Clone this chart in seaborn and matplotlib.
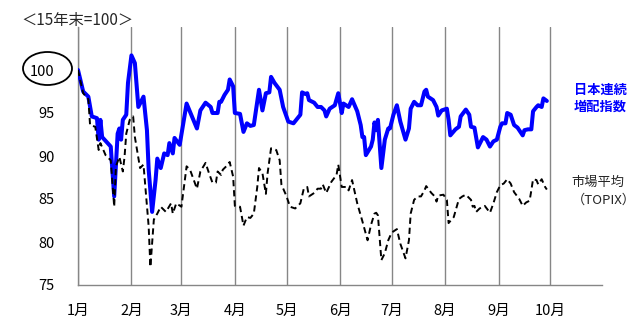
import matplotlib
matplotlib.use("Agg")
import matplotlib.pyplot as plt
import matplotlib.dates as mdates
from matplotlib.ticker import FuncFormatter
from matplotlib.patches import Ellipse
import pandas as pd
import seaborn as sns

# ---------------- data ----------------
base_date = "2016-01-01"
title_text = "＜15年末=100＞"
month_labels = ["1月", "2月", "3月", "4月", "5月", "6月", "7月", "8月", "9月", "10月"]
y_ticks = [75, 80, 85, 90, 95, 100]

# 日本連続増配指数 (days after base_date, index value)
blue_days = [0, 3, 6, 8, 11, 12, 13, 14, 19, 21, 23, 24, 25, 26, 28, 29, 31, 33, 35, 38,
             40, 41, 43, 45, 46, 48, 50, 52, 53, 55, 56, 59, 63, 69, 71, 74, 77, 78, 81, 82,
             83, 85, 87, 88, 90, 91, 94, 96, 98, 100, 102, 105, 107, 109, 111, 112, 114, 117, 119, 122,
             125, 129, 130, 132, 133, 134, 137, 139, 141, 143, 144, 146, 149, 151, 153, 154, 157, 159, 162, 164,
             165, 166, 167, 170, 171, 172, 173, 174, 176, 178, 180, 181, 183, 185, 187, 190, 192, 193, 195, 197,
             199, 201, 202, 203, 206, 208, 209, 211, 214, 215, 216, 219, 221, 222, 225, 227, 228, 230, 232, 233,
             235, 237, 239, 241, 243, 245, 246, 248, 249, 251, 253, 255, 256, 258, 259, 261, 263, 264, 266, 267,
             269, 270, 272]
blue_vals = [100.0, 97.5, 96.9, 94.6, 94.4, 91.9, 94.2, 92.2, 91.1, 85.3, 92.6, 93.2, 91.9, 94.2, 94.8, 98.5, 101.7, 100.8, 95.7, 96.9,
             93.0, 88.4, 83.5, 87.2, 89.7, 88.6, 90.3, 90.1, 91.5, 90.3, 92.1, 91.3, 96.1, 93.2, 95.3, 96.2, 95.7, 95.0, 95.0, 96.3,
             96.3, 97.1, 97.7, 98.9, 98.1, 95.0, 94.9, 92.8, 93.8, 93.5, 93.6, 97.7, 95.3, 97.3, 97.4, 99.2, 98.5, 97.7, 95.7, 94.0,
             93.8, 94.8, 97.4, 97.2, 97.3, 96.5, 96.2, 95.7, 95.7, 95.3, 94.6, 95.5, 95.9, 97.3, 95.0, 96.1, 95.7, 96.6, 95.2, 93.6,
             92.2, 92.2, 90.1, 91.1, 91.9, 93.9, 93.0, 94.2, 88.6, 91.9, 93.2, 93.2, 94.8, 95.9, 94.0, 91.9, 93.2, 95.5, 96.3, 95.9,
             95.9, 97.5, 97.7, 96.9, 96.5, 95.7, 94.7, 95.3, 95.5, 94.2, 92.4, 93.1, 93.4, 94.6, 95.4, 94.8, 93.4, 93.3, 91.0, 91.4,
             92.2, 91.9, 91.1, 91.7, 91.9, 93.4, 93.8, 93.8, 95.0, 94.8, 93.6, 93.3, 93.0, 92.4, 93.0, 93.1, 93.1, 95.2, 95.7, 95.9,
             95.7, 96.7, 96.4]

# 市場平均 (TOPIX)
black_days = [0, 3, 6, 7, 10, 12, 13, 16, 19, 21, 22, 24, 26, 27, 28, 30, 32, 33, 36, 38,
              41, 42, 44, 46, 48, 51, 54, 55, 57, 60, 63, 65, 69, 71, 74, 76, 78, 80, 81, 83,
              84, 86, 88, 90, 91, 94, 96, 98, 100, 102, 104, 105, 107, 109, 110, 112, 115, 117, 118, 121,
              123, 126, 129, 131, 133, 134, 137, 139, 141, 142, 144, 147, 150, 151, 153, 156, 157, 159, 162, 165,
              168, 170, 172, 173, 174, 176, 178, 180, 182, 185, 187, 190, 192, 193, 195, 197, 199, 201, 202, 205,
              207, 208, 209, 212, 214, 215, 218, 221, 223, 225, 228, 229, 230, 231, 233, 235, 236, 239, 241, 243,
              245, 247, 249, 251, 253, 256, 258, 260, 262, 263, 264, 266, 267, 269, 271, 272]
black_vals = [100.0, 97.3, 96.6, 93.6, 93.4, 90.7, 91.5, 90.1, 89.5, 84.1, 88.8, 89.9, 88.2, 89.9, 92.6, 94.2, 94.6, 92.2, 88.6, 89.0,
              81.8, 77.1, 82.6, 83.3, 84.1, 83.5, 84.5, 83.3, 84.5, 84.1, 88.8, 88.4, 86.2, 88.2, 89.2, 88.0, 86.9, 86.9, 88.2, 87.8,
              88.4, 88.8, 89.3, 87.6, 84.2, 84.1, 81.9, 82.9, 82.8, 83.3, 86.4, 88.6, 88.0, 85.6, 88.0, 90.9, 90.7, 89.5, 86.7, 85.3,
              84.1, 83.9, 84.5, 86.2, 86.4, 85.3, 85.7, 86.2, 86.2, 86.7, 85.7, 87.0, 87.8, 89.0, 86.4, 86.4, 86.0, 87.2, 84.5, 82.4,
              80.2, 82.0, 83.3, 83.4, 83.1, 77.9, 78.7, 80.2, 81.1, 81.5, 79.8, 78.1, 80.2, 83.3, 84.9, 85.3, 85.3, 86.0, 86.5, 85.7,
              85.3, 84.7, 85.4, 85.5, 84.9, 82.2, 82.9, 85.0, 85.3, 85.5, 84.9, 84.1, 84.2, 83.5, 83.9, 84.1, 84.2, 83.4, 84.5, 85.8,
              86.6, 86.8, 87.3, 86.8, 85.8, 85.0, 84.2, 84.6, 84.8, 86.0, 87.3, 87.2, 86.7, 87.3, 86.4, 86.1]

blue_label = ["日本連続", "増配指数"]
black_label = ["市場平均", "（TOPIX）"]

# ---------------- build frames ----------------
base = pd.Timestamp(base_date)
df_blue = pd.DataFrame({"date": base + pd.to_timedelta(blue_days, unit="D"), "value": blue_vals})
df_black = pd.DataFrame({"date": base + pd.to_timedelta(black_days, unit="D"), "value": black_vals})

sns.set_style("white")
plt.rcParams["font.family"] = ["Noto Sans CJK JP", "DejaVu Sans"]

W, H = 642, 326
fig = plt.figure(figsize=(W / 100, H / 100), dpi=100)
ax = fig.add_axes([78 / W, 1 - 285 / H, (602 - 78) / W, (285 - 27) / H])

grey = "#868686"
sns.lineplot(data=df_blue, x="date", y="value", color="#0000FF", lw=2.9, ax=ax, zorder=3)
sns.lineplot(data=df_black, x="date", y="value", color="black", lw=1.4,
             linestyle=(0, (3.2, 2.0)), ax=ax, zorder=4)

ax.set_xlim(base, base + pd.Timedelta(days=304))
ax.set_ylim(75, 105)
ax.set_yticks(y_ticks)
ax.xaxis.set_major_locator(mdates.MonthLocator(bymonth=range(1, len(month_labels) + 1)))
ax.xaxis.set_major_formatter(FuncFormatter(lambda v, p: month_labels[mdates.num2date(v).month - 1]))
ax.set_xlabel("")
ax.set_ylabel("")

ax.grid(axis="x", color=grey, lw=1.0)
ax.grid(axis="y", visible=False)
ax.set_axisbelow(True)
for s in ["top", "right"]:
    ax.spines[s].set_visible(False)
for s in ["left", "bottom"]:
    ax.spines[s].set_color(grey)
    ax.spines[s].set_linewidth(1.0)
ax.tick_params(axis="both", direction="out", length=4.5, width=1.0, color=grey,
               labelsize=10.5, labelcolor="black")
ax.tick_params(axis="y", pad=12.5)
ax.tick_params(axis="x", pad=9.0)

# ellipse around the 100 label
fig.add_artist(Ellipse((47.5 / W, 1 - 68.5 / H), 49 / W, 33 / H, transform=fig.transFigure,
                       fill=False, ec="black", lw=1.3))

fig.text(21 / W, 1 - 21 / H, title_text, ha="left", va="center", fontsize=11)
fig.text(600 / W, 1 - 90 / H, blue_label[0], ha="center", va="center", fontsize=9.5,
         color="#0000FF", fontweight="bold")
fig.text(600 / W, 1 - 107 / H, blue_label[1], ha="center", va="center", fontsize=9.5,
         color="#0000FF", fontweight="bold")
fig.text(598 / W, 1 - 182 / H, black_label[0], ha="center", va="center", fontsize=9.5)
fig.text(604 / W, 1 - 200 / H, black_label[1], ha="center", va="center", fontsize=9.5)

fig.savefig("out.png", dpi=100, facecolor="white")
